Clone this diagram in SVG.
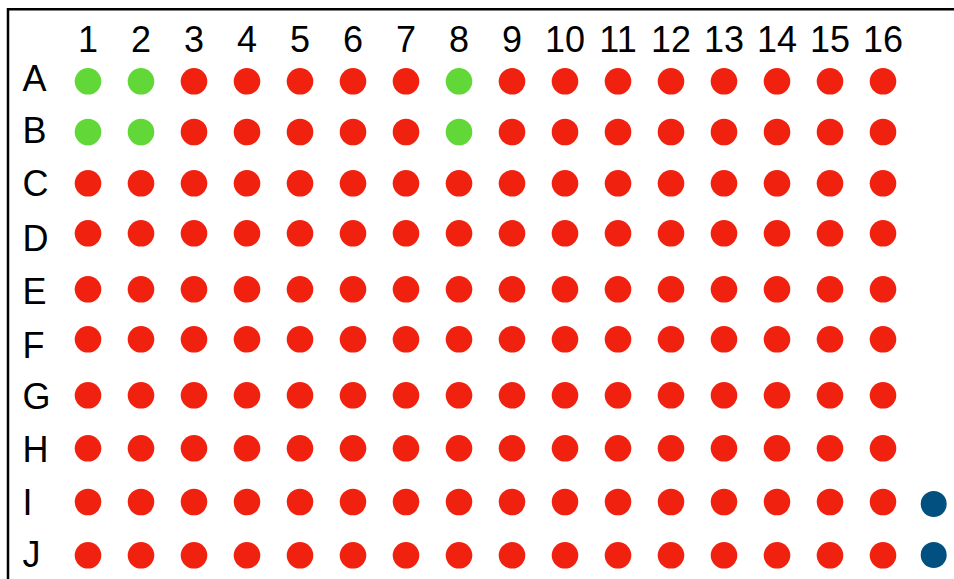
<svg xmlns="http://www.w3.org/2000/svg" width="954" height="579" viewBox="0 0 954 579">
<style>
text{font-family:"Liberation Sans",Arial,sans-serif;font-size:36px;fill:#000}
.col{text-anchor:middle}
.r{fill:#F0220F}.g{fill:#62D838}.b{fill:#01507F}
</style>
<rect width="954" height="579" fill="#fff"/>
<path d="M8 579V9.3H954" fill="none" stroke="#000" stroke-width="2.5"/>
<g id="col-labels">
<text class="col" x="88" y="51.5">1</text><text class="col" x="141" y="51.5">2</text><text class="col" x="194" y="51.5">3</text><text class="col" x="247" y="51.5">4</text><text class="col" x="300" y="51.5">5</text><text class="col" x="353" y="51.5">6</text><text class="col" x="406" y="51.5">7</text><text class="col" x="459" y="51.5">8</text><text class="col" x="512" y="51.5">9</text><text class="col" x="565" y="51.5">10</text><text class="col" x="618" y="51.5">11</text><text class="col" x="671" y="51.5">12</text><text class="col" x="724" y="51.5">13</text><text class="col" x="777" y="51.5">14</text><text class="col" x="830" y="51.5">15</text><text class="col" x="883" y="51.5">16</text>
</g>
<g id="row-labels">
<text x="22.5" y="90.7">A</text><text x="22.5" y="143.3">B</text><text x="22.5" y="196">C</text><text x="22.5" y="251">D</text><text x="22.5" y="303.7">E</text><text x="22.5" y="358">F</text><text x="22.5" y="409">G</text><text x="22.5" y="462">H</text><text x="22.5" y="514.7">I</text><text x="22.5" y="566.5">J</text>
</g>
<g id="row-A">
<circle class="g" cx="88" cy="81.3" r="13.3"/><circle class="g" cx="141" cy="81.3" r="13.3"/><circle class="r" cx="194" cy="81.3" r="13.3"/><circle class="r" cx="247" cy="81.3" r="13.3"/><circle class="r" cx="300" cy="81.3" r="13.3"/><circle class="r" cx="353" cy="81.3" r="13.3"/><circle class="r" cx="406" cy="81.3" r="13.3"/><circle class="g" cx="459" cy="81.3" r="13.3"/><circle class="r" cx="512" cy="81.3" r="13.3"/><circle class="r" cx="565" cy="81.3" r="13.3"/><circle class="r" cx="618" cy="81.3" r="13.3"/><circle class="r" cx="671" cy="81.3" r="13.3"/><circle class="r" cx="724" cy="81.3" r="13.3"/><circle class="r" cx="777" cy="81.3" r="13.3"/><circle class="r" cx="830" cy="81.3" r="13.3"/><circle class="r" cx="883" cy="81.3" r="13.3"/>
</g>
<g id="row-B">
<circle class="g" cx="88" cy="132" r="13.3"/><circle class="g" cx="141" cy="132" r="13.3"/><circle class="r" cx="194" cy="132" r="13.3"/><circle class="r" cx="247" cy="132" r="13.3"/><circle class="r" cx="300" cy="132" r="13.3"/><circle class="r" cx="353" cy="132" r="13.3"/><circle class="r" cx="406" cy="132" r="13.3"/><circle class="g" cx="459" cy="132" r="13.3"/><circle class="r" cx="512" cy="132" r="13.3"/><circle class="r" cx="565" cy="132" r="13.3"/><circle class="r" cx="618" cy="132" r="13.3"/><circle class="r" cx="671" cy="132" r="13.3"/><circle class="r" cx="724" cy="132" r="13.3"/><circle class="r" cx="777" cy="132" r="13.3"/><circle class="r" cx="830" cy="132" r="13.3"/><circle class="r" cx="883" cy="132" r="13.3"/>
</g>
<g id="row-C">
<circle class="r" cx="88" cy="183.3" r="13.3"/><circle class="r" cx="141" cy="183.3" r="13.3"/><circle class="r" cx="194" cy="183.3" r="13.3"/><circle class="r" cx="247" cy="183.3" r="13.3"/><circle class="r" cx="300" cy="183.3" r="13.3"/><circle class="r" cx="353" cy="183.3" r="13.3"/><circle class="r" cx="406" cy="183.3" r="13.3"/><circle class="r" cx="459" cy="183.3" r="13.3"/><circle class="r" cx="512" cy="183.3" r="13.3"/><circle class="r" cx="565" cy="183.3" r="13.3"/><circle class="r" cx="618" cy="183.3" r="13.3"/><circle class="r" cx="671" cy="183.3" r="13.3"/><circle class="r" cx="724" cy="183.3" r="13.3"/><circle class="r" cx="777" cy="183.3" r="13.3"/><circle class="r" cx="830" cy="183.3" r="13.3"/><circle class="r" cx="883" cy="183.3" r="13.3"/>
</g>
<g id="row-D">
<circle class="r" cx="88" cy="233.3" r="13.3"/><circle class="r" cx="141" cy="233.3" r="13.3"/><circle class="r" cx="194" cy="233.3" r="13.3"/><circle class="r" cx="247" cy="233.3" r="13.3"/><circle class="r" cx="300" cy="233.3" r="13.3"/><circle class="r" cx="353" cy="233.3" r="13.3"/><circle class="r" cx="406" cy="233.3" r="13.3"/><circle class="r" cx="459" cy="233.3" r="13.3"/><circle class="r" cx="512" cy="233.3" r="13.3"/><circle class="r" cx="565" cy="233.3" r="13.3"/><circle class="r" cx="618" cy="233.3" r="13.3"/><circle class="r" cx="671" cy="233.3" r="13.3"/><circle class="r" cx="724" cy="233.3" r="13.3"/><circle class="r" cx="777" cy="233.3" r="13.3"/><circle class="r" cx="830" cy="233.3" r="13.3"/><circle class="r" cx="883" cy="233.3" r="13.3"/>
</g>
<g id="row-E">
<circle class="r" cx="88" cy="289.3" r="13.3"/><circle class="r" cx="141" cy="289.3" r="13.3"/><circle class="r" cx="194" cy="289.3" r="13.3"/><circle class="r" cx="247" cy="289.3" r="13.3"/><circle class="r" cx="300" cy="289.3" r="13.3"/><circle class="r" cx="353" cy="289.3" r="13.3"/><circle class="r" cx="406" cy="289.3" r="13.3"/><circle class="r" cx="459" cy="289.3" r="13.3"/><circle class="r" cx="512" cy="289.3" r="13.3"/><circle class="r" cx="565" cy="289.3" r="13.3"/><circle class="r" cx="618" cy="289.3" r="13.3"/><circle class="r" cx="671" cy="289.3" r="13.3"/><circle class="r" cx="724" cy="289.3" r="13.3"/><circle class="r" cx="777" cy="289.3" r="13.3"/><circle class="r" cx="830" cy="289.3" r="13.3"/><circle class="r" cx="883" cy="289.3" r="13.3"/>
</g>
<g id="row-F">
<circle class="r" cx="88" cy="339.3" r="13.3"/><circle class="r" cx="141" cy="339.3" r="13.3"/><circle class="r" cx="194" cy="339.3" r="13.3"/><circle class="r" cx="247" cy="339.3" r="13.3"/><circle class="r" cx="300" cy="339.3" r="13.3"/><circle class="r" cx="353" cy="339.3" r="13.3"/><circle class="r" cx="406" cy="339.3" r="13.3"/><circle class="r" cx="459" cy="339.3" r="13.3"/><circle class="r" cx="512" cy="339.3" r="13.3"/><circle class="r" cx="565" cy="339.3" r="13.3"/><circle class="r" cx="618" cy="339.3" r="13.3"/><circle class="r" cx="671" cy="339.3" r="13.3"/><circle class="r" cx="724" cy="339.3" r="13.3"/><circle class="r" cx="777" cy="339.3" r="13.3"/><circle class="r" cx="830" cy="339.3" r="13.3"/><circle class="r" cx="883" cy="339.3" r="13.3"/>
</g>
<g id="row-G">
<circle class="r" cx="88" cy="395.3" r="13.3"/><circle class="r" cx="141" cy="395.3" r="13.3"/><circle class="r" cx="194" cy="395.3" r="13.3"/><circle class="r" cx="247" cy="395.3" r="13.3"/><circle class="r" cx="300" cy="395.3" r="13.3"/><circle class="r" cx="353" cy="395.3" r="13.3"/><circle class="r" cx="406" cy="395.3" r="13.3"/><circle class="r" cx="459" cy="395.3" r="13.3"/><circle class="r" cx="512" cy="395.3" r="13.3"/><circle class="r" cx="565" cy="395.3" r="13.3"/><circle class="r" cx="618" cy="395.3" r="13.3"/><circle class="r" cx="671" cy="395.3" r="13.3"/><circle class="r" cx="724" cy="395.3" r="13.3"/><circle class="r" cx="777" cy="395.3" r="13.3"/><circle class="r" cx="830" cy="395.3" r="13.3"/><circle class="r" cx="883" cy="395.3" r="13.3"/>
</g>
<g id="row-H">
<circle class="r" cx="88" cy="448.3" r="13.3"/><circle class="r" cx="141" cy="448.3" r="13.3"/><circle class="r" cx="194" cy="448.3" r="13.3"/><circle class="r" cx="247" cy="448.3" r="13.3"/><circle class="r" cx="300" cy="448.3" r="13.3"/><circle class="r" cx="353" cy="448.3" r="13.3"/><circle class="r" cx="406" cy="448.3" r="13.3"/><circle class="r" cx="459" cy="448.3" r="13.3"/><circle class="r" cx="512" cy="448.3" r="13.3"/><circle class="r" cx="565" cy="448.3" r="13.3"/><circle class="r" cx="618" cy="448.3" r="13.3"/><circle class="r" cx="671" cy="448.3" r="13.3"/><circle class="r" cx="724" cy="448.3" r="13.3"/><circle class="r" cx="777" cy="448.3" r="13.3"/><circle class="r" cx="830" cy="448.3" r="13.3"/><circle class="r" cx="883" cy="448.3" r="13.3"/>
</g>
<g id="row-I">
<circle class="r" cx="88" cy="502" r="13.3"/><circle class="r" cx="141" cy="502" r="13.3"/><circle class="r" cx="194" cy="502" r="13.3"/><circle class="r" cx="247" cy="502" r="13.3"/><circle class="r" cx="300" cy="502" r="13.3"/><circle class="r" cx="353" cy="502" r="13.3"/><circle class="r" cx="406" cy="502" r="13.3"/><circle class="r" cx="459" cy="502" r="13.3"/><circle class="r" cx="512" cy="502" r="13.3"/><circle class="r" cx="565" cy="502" r="13.3"/><circle class="r" cx="618" cy="502" r="13.3"/><circle class="r" cx="671" cy="502" r="13.3"/><circle class="r" cx="724" cy="502" r="13.3"/><circle class="r" cx="777" cy="502" r="13.3"/><circle class="r" cx="830" cy="502" r="13.3"/><circle class="r" cx="883" cy="502" r="13.3"/><circle class="b" cx="933.7" cy="504" r="13"/>
</g>
<g id="row-J">
<circle class="r" cx="88" cy="555.3" r="13.3"/><circle class="r" cx="141" cy="555.3" r="13.3"/><circle class="r" cx="194" cy="555.3" r="13.3"/><circle class="r" cx="247" cy="555.3" r="13.3"/><circle class="r" cx="300" cy="555.3" r="13.3"/><circle class="r" cx="353" cy="555.3" r="13.3"/><circle class="r" cx="406" cy="555.3" r="13.3"/><circle class="r" cx="459" cy="555.3" r="13.3"/><circle class="r" cx="512" cy="555.3" r="13.3"/><circle class="r" cx="565" cy="555.3" r="13.3"/><circle class="r" cx="618" cy="555.3" r="13.3"/><circle class="r" cx="671" cy="555.3" r="13.3"/><circle class="r" cx="724" cy="555.3" r="13.3"/><circle class="r" cx="777" cy="555.3" r="13.3"/><circle class="r" cx="830" cy="555.3" r="13.3"/><circle class="r" cx="883" cy="555.3" r="13.3"/><circle class="b" cx="933.7" cy="555" r="13"/>
</g>
</svg>
